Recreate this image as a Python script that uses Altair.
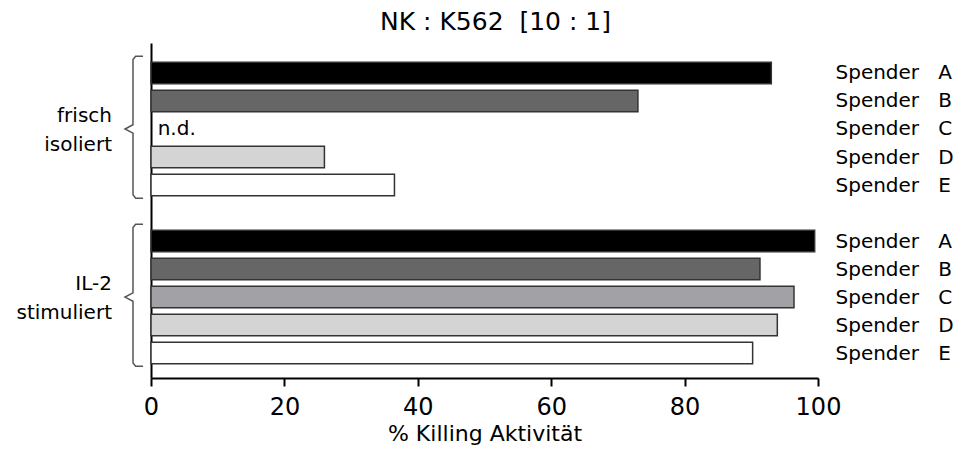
import altair as alt
import pandas as pd

# ---- data ----
spender = ["A", "B", "C", "D", "E"]
groups = ["frisch\nisoliert", "IL-2\nstimuliert"]
frisch_values = [93.0, 73.0, None, 26.0, 36.5]   # C: n.d.
il2_values = [99.5, 91.3, 96.4, 93.9, 90.2]
bar_colors = ["#000000", "#666666", "#a2a2a6", "#d4d4d4", "#ffffff"]
x_ticks = [0, 20, 40, 60, 80, 100]
title_text = "NK : K562\u00a0\u00a0[10 : 1]"
x_title = "% Killing Aktivität"
nd_text = "n.d."

FONT = "DejaVu Sans"
HALF = 0.385  # half bar thickness in row units
GAP = 6       # rows per group (5 bars + 1 empty)

rows = []
for g, vals in enumerate([frisch_values, il2_values]):
    for i, (s, v) in enumerate(zip(spender, vals)):
        r = g * GAP + i
        rows.append({"group": g, "spender": s, "row": r, "value": v,
                     "y0": r - HALF, "y1": r + HALF, "x0": 0})
df = pd.DataFrame(rows)
bars_df = df.dropna(subset=["value"])
nd_df = df[df["value"].isna()].assign(label=nd_text, xpos=1.0)

# bracket paths derived from group row extents
bx, hook, tip = -2.7, -1.2, -3.9
br = []
grp_lab = []
for g, name in enumerate(groups):
    first = g * GAP
    last = first + len(spender) - 1
    t, b = first - 0.6, last + 0.47
    m = (first + last) / 2
    pts = [(hook, t), (bx + 0.4, t), (bx, t + 0.12), (bx, m - 0.15), (tip, m),
           (bx, m + 0.15), (bx, b - 0.12), (bx + 0.4, b), (hook, b)]
    for k, (px, py) in enumerate(pts):
        br.append({"group": g, "k": k, "bx": px, "by": py})
    grp_lab.append({"group": g, "label": name, "row": m - 0.45, "xpos": -5.85})
br_df = pd.DataFrame(br)
lab_df = pd.DataFrame(grp_lab)

label_rows = [g * GAP + i for g in range(len(groups)) for i in range(len(spender))]
letters = "[" + ",".join(
    "'" + (spender[r % GAP] if r % GAP < len(spender) else "") + "'" for r in range(max(label_rows) + 1)
) + "]"
right_expr = "'Spender\u00a0\u00a0\u00a0' + " + letters + "[datum.value]"

xscale = alt.Scale(domain=[0, 100], nice=False, zero=False)
yscale = alt.Scale(domain=[-1.07, 10.89], nice=False, zero=False, reverse=True)

bars = alt.Chart(bars_df).mark_rect(stroke="#333333", strokeWidth=1.5).encode(
    x=alt.X("x0:Q", scale=xscale,
            axis=alt.Axis(values=x_ticks, title=x_title, grid=False, tickSize=8, tickWidth=2,
                          tickColor="black", domainColor="black", domainWidth=2,
                          labelFont=FONT, labelFontSize=24, labelColor="black", labelPadding=9,
                          labelFlush=False,
                          titleFont=FONT, titleFontSize=22, titleFontWeight="normal",
                          titleColor="black", titlePadding=4)),
    x2="value:Q",
    y=alt.Y("y0:Q", scale=yscale,
            axis=alt.Axis(orient="left", labels=False, ticks=False, title=None, grid=False,
                          domainColor="black", domainWidth=2)),
    y2="y1:Q",
    fill=alt.Fill("spender:N", scale=alt.Scale(domain=spender, range=bar_colors), legend=None),
)

nd = alt.Chart(nd_df).mark_text(font=FONT, fontSize=20, align="left", baseline="middle",
                                color="black").encode(
    x=alt.X("xpos:Q", scale=xscale, axis=None),
    y=alt.Y("row:Q", scale=yscale,
            axis=alt.Axis(orient="right", values=label_rows, labelExpr=right_expr,
                          domain=False, ticks=False, grid=False, title=None,
                          labelFont=FONT, labelFontSize=20, labelColor="black",
                          labelAlign="left", labelPadding=17)),
    text="label:N",
)

brackets = alt.Chart(br_df).mark_line(color="#555555", strokeWidth=1.5).encode(
    x=alt.X("bx:Q", scale=xscale, axis=None),
    y=alt.Y("by:Q", scale=yscale, axis=None),
    detail="group:N",
    order="k:Q",
)

glabels = alt.Chart(lab_df).mark_text(font=FONT, fontSize=20, align="right", baseline="middle",
                                      lineBreak="\n", lineHeight=29, color="black").encode(
    x=alt.X("xpos:Q", scale=xscale, axis=None),
    y=alt.Y("row:Q", scale=yscale, axis=None),
    text="label:N",
)

chart = alt.layer(bars, nd, brackets, glabels).resolve_axis(
    x="independent", y="independent"
).properties(
    width=667, height=335,
    autosize=alt.AutoSizeParams(type="none"),
    padding={"left": 143, "top": 35, "right": 140, "bottom": 70},
    title=alt.Title(title_text, font=FONT, fontSize=25, fontWeight="normal", color="black",
                    anchor="middle", offset=8, dx=11),
).configure_view(stroke=None)

chart.save("out.html", embed_options={"renderer": "svg", "actions": False})
